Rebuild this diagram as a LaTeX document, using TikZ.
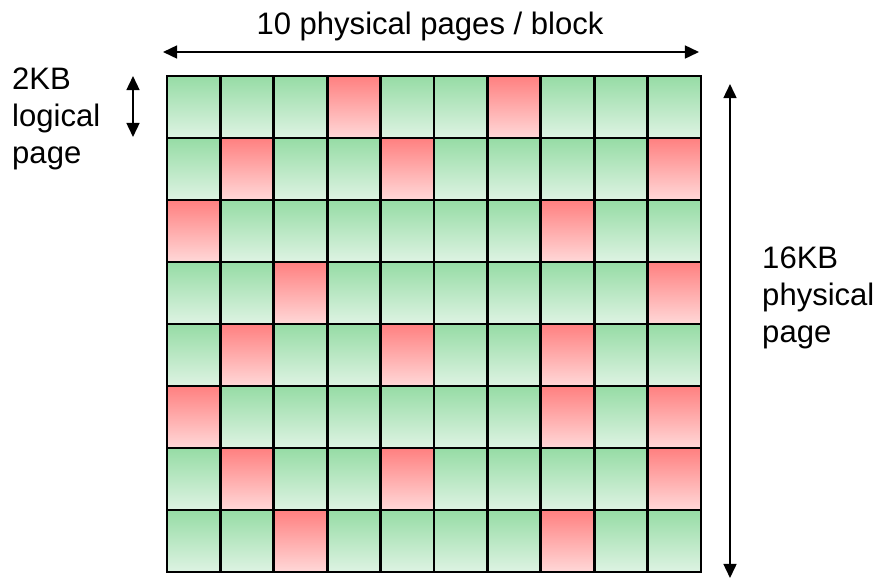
\documentclass[tikz,border=0pt]{standalone}
\usepackage{fontspec}
\setmainfont{Liberation Sans}
\usetikzlibrary{arrows.meta}

\definecolor{goodtop}{RGB}{150,220,165}
\definecolor{goodbot}{RGB}{222,243,227}
\definecolor{badtop}{RGB}{255,128,128}
\definecolor{badbot}{RGB}{255,216,216}

\tikzset{
  cell/.style={draw=black,line width=2.3pt},
  good/.style={cell,top color=goodtop,bottom color=goodbot},
  bad/.style={cell,top color=badtop,bottom color=badbot},
  span/.style={line width=1.7pt,{Triangle[length=12pt,width=11pt]}-{Triangle[length=12pt,width=11pt]}},
  lbl/.style={inner sep=0pt,align=left,font=\fontsize{26.5}{31.6}\selectfont},
}

\begin{document}
\begin{tikzpicture}[x=0.03cm,y=-0.03cm]
    \useasboundingbox (0,0) rectangle (877,579);

    % 10 x 8 grid of logical pages
    \foreach \r in {1,...,8}
      \foreach \c in {1,...,10}
        \draw[good] ({167+(\c-1)*53.4},{76+(\r-1)*62}) rectangle ++(53.4,62);
    \foreach \c/\r in {4/1,7/1, 2/2,5/2,10/2, 1/3,8/3, 3/4,10/4,
                      2/5,5/5,8/5, 1/6,8/6,10/6, 2/7,5/7,10/7, 3/8,8/8}
        \draw[bad] ({167+(\c-1)*53.4},{76+(\r-1)*62}) rectangle ++(53.4,62);

    \node[lbl,anchor=base] (block) at (430,34) {10 physical pages / block};
    \node[lbl,anchor=north west] (logical) at (12,68) {2KB\\logical\\page};
    \node[lbl,anchor=north west] (physical) at (762,247) {16KB\\physical\\page};

    \coordinate (bl) at (163,52);
    \coordinate (br) at (699,52);
    \coordinate (lt) at (133,76);
    \coordinate (lb) at (133,137);
    \coordinate (pt) at (730,84);
    \coordinate (pb) at (730,578);

    \draw[span] (bl) -- (br);
    \draw[span] (lt) -- (lb);
    \draw[span] (pt) -- (pb);
\end{tikzpicture}
\end{document}
